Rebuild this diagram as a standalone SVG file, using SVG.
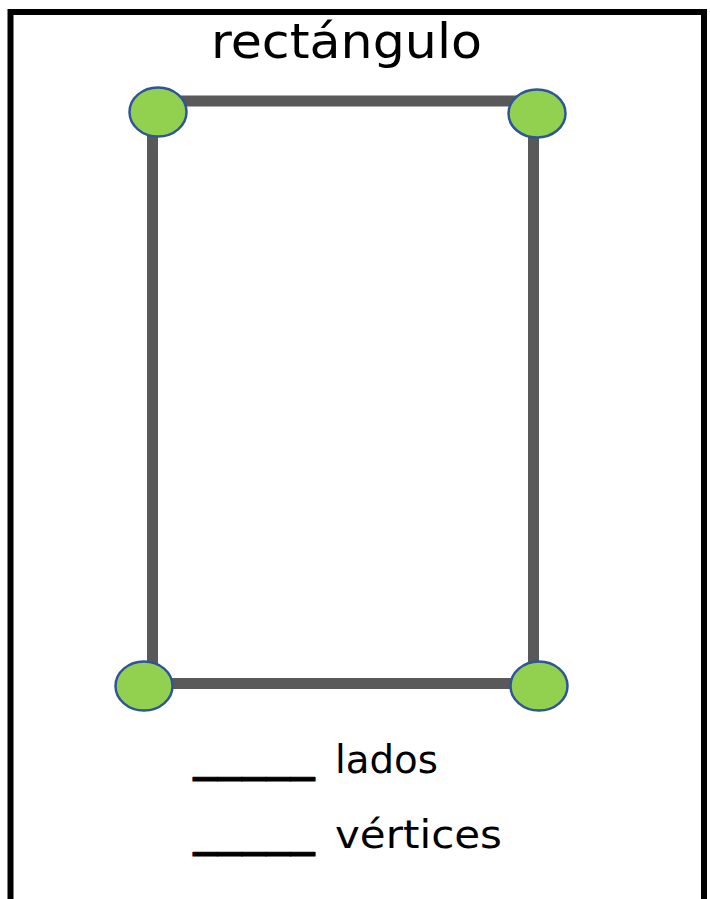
<svg xmlns="http://www.w3.org/2000/svg" width="710" height="899" viewBox="0 0 710 899">
<style>
.t{font-family:"DejaVu Sans","Liberation Sans",sans-serif;fill:#000}
.u{font-weight:bold;stroke:#000;stroke-width:1;stroke-linejoin:round}
.v{fill:#92D050;stroke:#2F5597;stroke-width:2.5}
.s{stroke:#595959;stroke-width:11;fill:none}
</style>
<rect width="710" height="899" fill="#fff"/>
<rect x="10.5" y="12" width="693.5" height="900" fill="none" stroke="#000" stroke-width="6"/>
<text id="title" class="t" x="211" y="58" font-size="48" textLength="271" lengthAdjust="spacingAndGlyphs">rectángulo</text>
<g id="connectors">
<line class="s" x1="152.5" y1="101" x2="533.5" y2="101"/>
<line class="s" x1="533.5" y1="101" x2="533.5" y2="683.5"/>
<line class="s" x1="533.5" y1="683.5" x2="152.5" y2="683.5"/>
<line class="s" x1="152.5" y1="683.5" x2="152.5" y2="101"/>
</g>
<g id="v1"><ellipse class="v" cx="158" cy="112" rx="28.5" ry="24.5"/></g>
<g id="v2"><ellipse class="v" cx="537" cy="113.5" rx="28.5" ry="24"/></g>
<g id="v3"><ellipse class="v" cx="144" cy="686" rx="28.5" ry="24.5"/></g>
<g id="v4"><ellipse class="v" cx="539" cy="686" rx="28.5" ry="24.5"/></g>
<g id="lados"><text class="t" y="773" font-size="39"><tspan class="u" x="193" y="772" textLength="122" lengthAdjust="spacingAndGlyphs">_____</tspan><tspan x="335" y="773" textLength="103" lengthAdjust="spacingAndGlyphs">lados</tspan></text></g>
<g id="vertices"><text class="t" y="848" font-size="39"><tspan class="u" x="193" y="847" textLength="122" lengthAdjust="spacingAndGlyphs">_____</tspan><tspan x="335" y="848" textLength="167" lengthAdjust="spacingAndGlyphs">vértices</tspan></text></g>
</svg>
